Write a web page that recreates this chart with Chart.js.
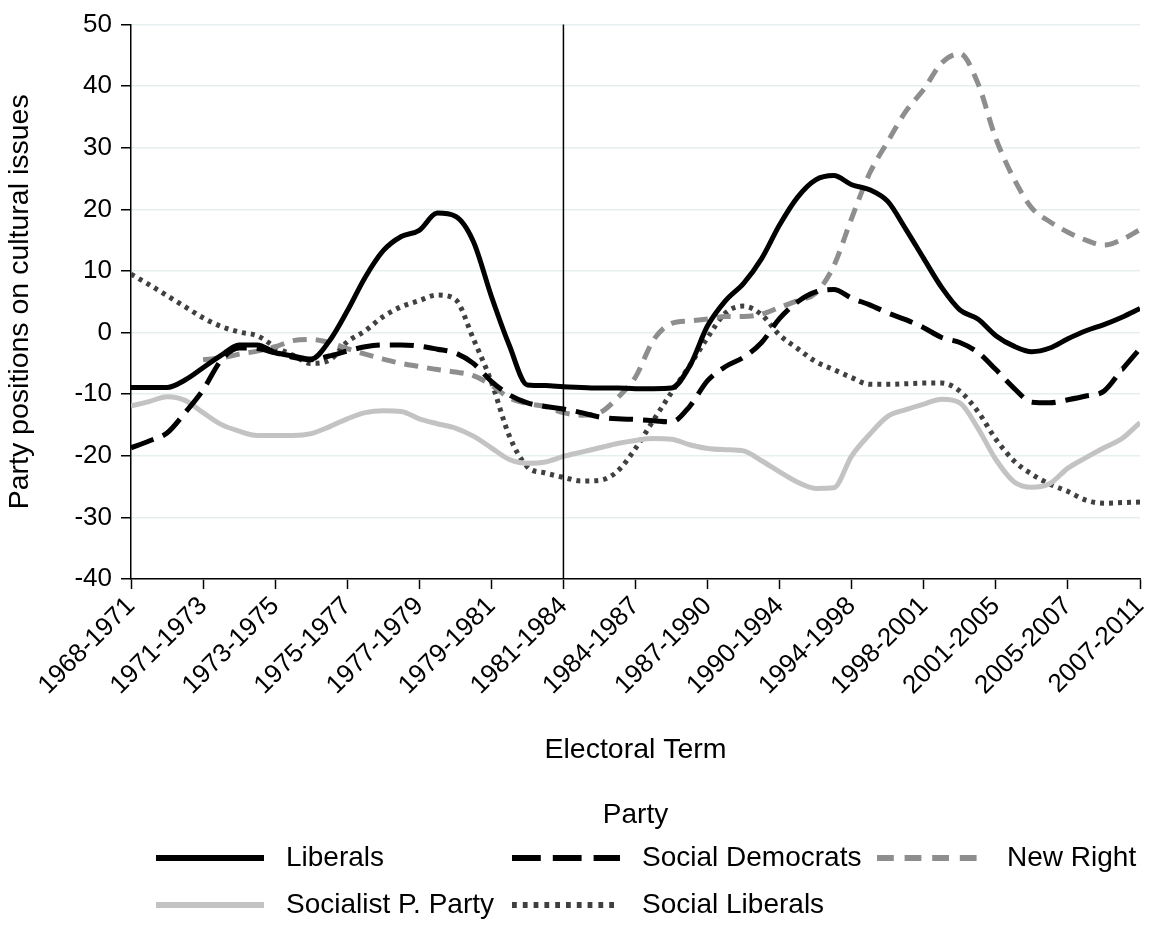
<!DOCTYPE html>
<html>
<head>
<meta charset="utf-8">
<script src="https://cdn.jsdelivr.net/npm/chart.js@4.4.1/dist/chart.umd.min.js"></script>
<style>
  html, body { margin: 0; padding: 0; background: #fff; }
</style>
</head>
<body>
<canvas id="chart" width="1153" height="927"></canvas>
<script>
// electoral terms (tick labels), one per integer position on the x axis
const terms = ['1968-1971', '1971-1973', '1973-1975', '1975-1977', '1977-1979', '1979-1981', '1981-1984',
  '1984-1987', '1987-1990', '1990-1994', '1994-1998', '1998-2001', '2001-2005', '2005-2007', '2007-2011'];

// smoothed series are sampled every quarter term
const positions = [0, 0.25, 0.5, 0.75, 1, 1.25, 1.5, 1.75, 2, 2.25, 2.5, 2.75, 3, 3.25, 3.5, 3.75,
  4, 4.25, 4.5, 4.75, 5, 5.25, 5.5, 5.75, 6, 6.25, 6.5, 6.75, 7, 7.25, 7.5, 7.75,
  8, 8.25, 8.5, 8.75, 9, 9.25, 9.5, 9.75, 10, 10.25, 10.5, 10.75, 11, 11.25, 11.5, 11.75,
  12, 12.25, 12.5, 12.75, 13, 13.25, 13.5, 13.75, 14];

const liberals = [-8.9, -8.9, -8.9, -7.7, -5.7, -3.7, -2.0, -2.0, -3.2, -3.8, -4.3, -1.4, 3.5, 9.0, 13.3, 15.6,
  16.6, 19.4, 18.9, 14.8, 5.9, -2.1, -8.5, -8.6, -8.8, -8.9, -9.0, -9.0, -9.1, -9.1, -9.0, -5.5,
  1.1, 5.2, 8.0, 12.0, 17.5, 22.0, 24.8, 25.5, 24.0, 23.2, 21.3, 16.8, 12.0, 7.3, 3.7, 2.2,
  -0.5, -2.2, -3.1, -2.5, -1.0, 0.3, 1.3, 2.5, 3.9];

const socialDemocrats = [-18.7, -17.6, -16.3, -13.0, -9.3, -4.5, -2.5, -2.6, -3.3, -4.0, -4.4, -3.8, -3.0, -2.3, -2.0, -2.0,
  -2.2, -2.7, -3.3, -5.0, -7.9, -10.1, -11.4, -12.0, -12.4, -13.0, -13.7, -14.0, -14.1, -14.3, -14.5, -12.0,
  -7.8, -5.5, -4.0, -1.6, 2.3, 5.0, 6.6, 7.0, 5.6, 4.5, 3.2, 2.1, 0.8, -0.8, -1.6, -3.2,
  -6.0, -9.0, -11.3, -11.4, -10.9, -10.3, -9.5, -6.0, -2.6];

const newRight = [null, null, null, null, -4.4, -4.1, -3.5, -3.0, -2.3, -1.3, -1.1, -1.6, -2.6, -3.5, -4.3, -5.0,
  -5.5, -6.0, -6.4, -7.0, -8.5, -10.6, -11.5, -12.0, -13.0, -13.4, -13.0, -10.6, -7.2, -1.2, 1.5, 1.9,
  2.2, 2.6, 2.6, 3.0, 4.1, 5.2, 6.4, 10.8, 18.6, 25.9, 31.0, 35.9, 39.5, 43.8, 45.3, 40.5,
  31.5, 25.0, 20.2, 18.0, 16.3, 15.0, 14.2, 15.1, 16.7];

const socialistParty = [-11.9, -11.2, -10.4, -11.0, -13.0, -14.9, -16.0, -16.7, -16.7, -16.7, -16.4, -15.3, -14.0, -13.0, -12.7, -12.8,
  -14.0, -14.8, -15.5, -16.8, -18.7, -20.6, -21.2, -21.0, -20.1, -19.4, -18.7, -18.0, -17.5, -17.2, -17.3, -18.2,
  -18.8, -19.0, -19.2, -20.8, -22.6, -24.3, -25.3, -25.2, -20.0, -16.5, -13.6, -12.5, -11.6, -10.8, -11.4, -15.5,
  -20.6, -24.2, -25.1, -24.5, -22.0, -20.3, -18.7, -17.2, -14.6];

const socialLiberals = [9.5, 7.8, 6.0, 4.2, 2.4, 1.0, 0.1, -0.5, -2.3, -3.7, -5.0, -4.5, -1.5, 0.3, 2.6, 4.2,
  5.2, 6.1, 5.4, -1.0, -8.0, -16.8, -21.8, -22.8, -23.5, -24.1, -24.0, -22.5, -18.8, -14.2, -9.7, -5.4,
  -0.8, 3.2, 4.3, 2.9, -0.4, -2.6, -4.7, -6.0, -7.3, -8.4, -8.4, -8.3, -8.2, -8.2, -9.5, -12.8,
  -17.3, -20.8, -23.0, -24.6, -25.8, -27.2, -27.7, -27.6, -27.5];

const markerTerm = 6; // vertical line at 1981-1984

Chart.defaults.font.family = '"Liberation Sans", Arial, sans-serif';
Chart.defaults.color = '#000';

function series(label, values, color, dash) {
  return {
    label: label,
    data: positions.map((x, i) => ({ x: x, y: values[i] })),
    borderColor: color,
    backgroundColor: color,
    borderWidth: 5,
    borderDash: dash,
    borderCapStyle: 'butt',
    pointRadius: 0,
    cubicInterpolationMode: 'monotone',
    spanGaps: false
  };
}

const datasets = [
  series('Liberals', liberals, '#000000', []),
  series('Social Democrats', socialDemocrats, '#000000', [24, 10]),
  series('New Right', newRight, '#8e8e8e', [14, 9]),
  series('Socialist P. Party', socialistParty, '#c3c3c3', []),
  series('Social Liberals', socialLiberals, '#404040', [4, 5])
];

// vertical reference line
const markerLine = {
  id: 'markerLine',
  afterDatasetsDraw(chart) {
    const { ctx, chartArea, scales } = chart;
    const x = scales.x.getPixelForValue(markerTerm);
    ctx.save();
    ctx.strokeStyle = '#000';
    ctx.lineWidth = 1.5;
    ctx.beginPath();
    ctx.moveTo(x, chartArea.top);
    ctx.lineTo(x, chartArea.bottom);
    ctx.stroke();
    ctx.restore();
  }
};

// legend laid out as a 3-column grid under the axis title
const gridLegend = {
  id: 'gridLegend',
  afterDraw(chart) {
    const { ctx, chartArea } = chart;
    const cols = [156, 512, 877];
    const rows = [858, 905];
    const sampleLen = 108;
    ctx.save();
    ctx.fillStyle = '#000';
    ctx.font = '28px "Liberation Sans", Arial, sans-serif';
    ctx.textAlign = 'center';
    ctx.textBaseline = 'middle';
    ctx.fillText('Party', (chartArea.left + chartArea.right) / 2, 815);
    ctx.textAlign = 'left';
    chart.data.datasets.forEach((ds, i) => {
      const x = cols[i % 3];
      const y = rows[Math.floor(i / 3)];
      ctx.strokeStyle = ds.borderColor;
      ctx.lineWidth = 6;
      ctx.lineCap = 'butt';
      ctx.setLineDash(ds.borderDash.map(d => d * 1.2));
      ctx.beginPath();
      ctx.moveTo(x, y);
      ctx.lineTo(x + sampleLen, y);
      ctx.stroke();
      ctx.setLineDash([]);
      ctx.fillStyle = '#000';
      ctx.fillText(ds.label, x + sampleLen + 22, y);
    });
    ctx.restore();
  }
};

new Chart(document.getElementById('chart'), {
  type: 'line',
  data: { datasets: datasets },
  options: {
    responsive: false,
    devicePixelRatio: 1,
    animation: false,
    layout: { padding: { top: 20, right: 13, bottom: 160, left: 0 } },
    plugins: { legend: { display: false }, tooltip: { enabled: false } },
    scales: {
      x: {
        type: 'linear',
        min: 0,
        max: 14,
        ticks: {
          stepSize: 1,
          autoSkip: false,
          minRotation: 45,
          maxRotation: 45,
          padding: 2,
          font: { size: 26 },
          callback: v => terms[v]
        },
        grid: { drawOnChartArea: false, tickLength: 10, tickColor: '#000', tickWidth: 1.5 },
        border: { color: '#000', width: 1.5 },
        title: { display: true, text: 'Electoral Term', font: { size: 28.5 }, padding: 0 },
        afterFit(scale) {
          scale.height = 188;
          scale.paddingLeft = 0;
          scale.paddingRight = 0;
        }
      },
      y: {
        min: -40,
        max: 50,
        ticks: { stepSize: 10, padding: 9, font: { size: 26 } },
        grid: { color: '#e6eff0', lineWidth: 1.5, tickLength: 10, tickColor: '#000', tickWidth: 1.5 },
        border: { color: '#000', width: 1.5 },
        title: { display: true, text: 'Party positions on cultural issues', font: { size: 28.5 }, padding: { top: 3, bottom: 0 } },
        afterFit(scale) { scale.width = 131; }
      }
    }
  },
  plugins: [markerLine, gridLegend]
});
</script>
</body>
</html>
